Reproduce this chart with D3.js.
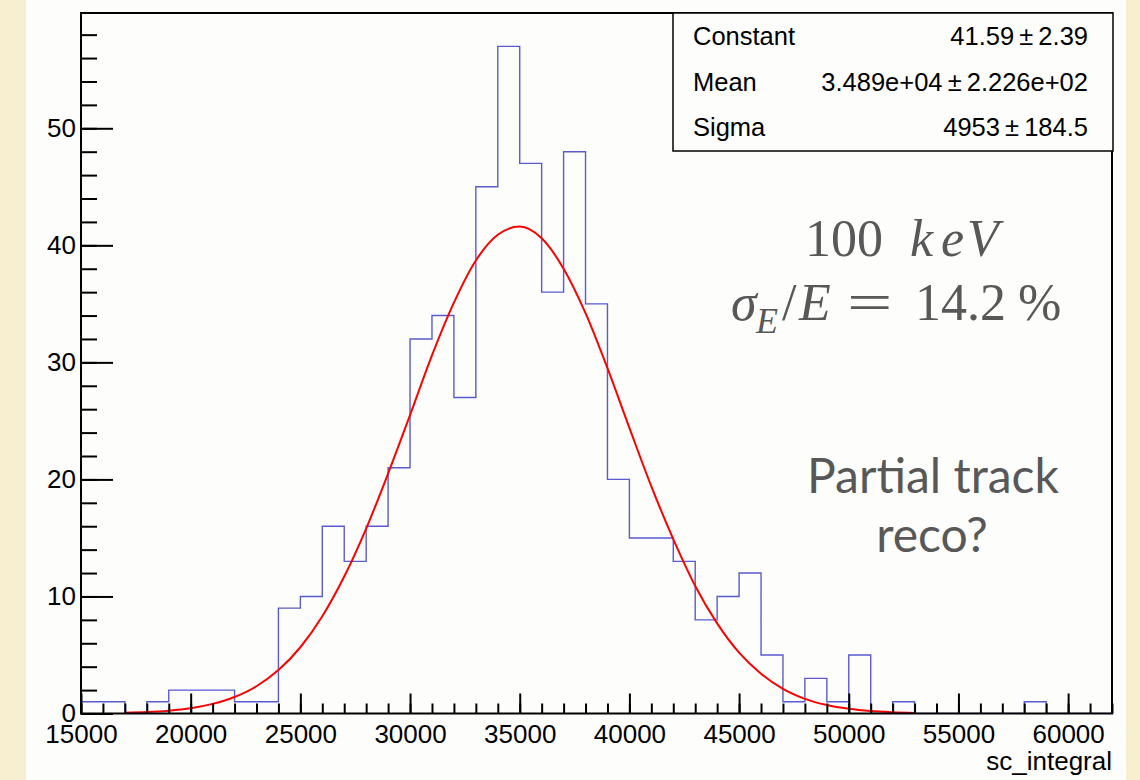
<!DOCTYPE html>
<html>
<head>
<meta charset="utf-8">
<script src="https://cdn.jsdelivr.net/npm/d3@7"></script>
<style>
  body { margin: 0; background: #f8efd0; }
  svg { display: block; }
  .tick text { font-family: "Liberation Sans", Arial, sans-serif; font-size: 26px; fill: #000; }
</style>
</head>
<body>
<script>
// histogram sc_integral, 1000 wide bins from 15000 to 62000
var binStart = 15000, binWidth = 1000;
var counts = [1,1,0,1,2,2,2,1,1,9,10,16,13,16,21,32,34,27,45,57,47,36,48,35,20,15,15,13,8,10,12,5,1,3,1,5,0,1,0,0,0,0,0,1,0,0,0];

// gaus fit curve
var fitX = [17000,18000,19000,20000,21000,22000,23000,24000,25000,26000,27000,28000,29000,30000,31000,32000,33000,34000,35000,36000,37000,38000,39000,40000,41000,42000,43000,44000,45000,46000,47000,48000,49000,50000,51000,52000,53000];
var fitY = [0.06,0.12,0.24,0.45,0.82,1.41,2.33,3.71,5.66,8.31,11.7,15.8,20.5,25.5,30.6,35.1,38.7,40.9,41.6,40.6,38.0,34.2,29.5,24.4,19.4,14.9,10.9,7.7,5.2,3.4,2.1,1.25,0.72,0.40,0.21,0.11,0.05];

var xTicks = [15000,20000,25000,30000,35000,40000,45000,50000,55000,60000];
var yTicks = [0,10,20,30,40,50];

var statNames = ["Constant","Mean","Sigma"];
var statVals = ["41.59","3.489e+04","4953"];
var statErrs = ["2.39","2.226e+02","184.5"];

var W = 1140, H = 780;
// note: "top" is taken by window.top, so frame edges get their own names
var fL = 81, fR = 1112, fT = 13, fB = 713.5;

var svg = d3.select("body").append("svg").attr("width", W).attr("height", H);

// white canvas
svg.append("rect").attr("x", 26).attr("y", 0).attr("width", 1100).attr("height", H).attr("fill", "#fdfdfc");

var xScale = d3.scaleLinear().domain([15000, 62000]).range([fL, fR]);
var yScale = d3.scaleLinear().domain([0, 59.85]).range([fB, fT]);

svg.append("clipPath").attr("id", "frameclip")
  .append("rect").attr("x", fL).attr("y", fT).attr("width", fR - fL).attr("height", fB - fT);

// histogram outline
var pts = counts.map(function (c, i) { return [binStart + i * binWidth, c]; });
pts.push([binStart + counts.length * binWidth, counts[counts.length - 1]]);
var histLine = d3.line()
  .x(function (d) { return xScale(d[0]); })
  .y(function (d) { return yScale(d[1]); })
  .curve(d3.curveStepAfter);
svg.append("path").datum(pts)
  .attr("d", histLine)
  .attr("fill", "none")
  .attr("stroke", "#5a5ad2")
  .attr("stroke-width", 1.4)
  .attr("clip-path", "url(#frameclip)");

// fit
var fitLine = d3.line()
  .x(function (d, i) { return xScale(fitX[i]); })
  .y(function (d) { return yScale(d); })
  .curve(d3.curveMonotoneX);
svg.append("path").datum(fitY)
  .attr("d", fitLine)
  .attr("fill", "none")
  .attr("stroke", "#ff0000")
  .attr("stroke-width", 2)
  .attr("clip-path", "url(#frameclip)");

// axes, ticks pointing inward like ROOT
var xMinor = d3.range(15000, 62001, 1000);
svg.append("g").attr("transform", "translate(0," + fB + ")")
  .call(d3.axisBottom(xScale).tickValues(xMinor).tickSizeInner(-10).tickSizeOuter(0).tickFormat(""))
  .call(function (g) { g.select(".domain").remove(); });
svg.append("g").attr("transform", "translate(0," + fB + ")")
  .call(d3.axisBottom(xScale).tickValues(xTicks).tickSizeInner(-20).tickSizeOuter(0).tickPadding(11).tickFormat(d3.format("d")))
  .call(function (g) { g.select(".domain").remove(); });

var yMinor = d3.range(0, 59, 2);
svg.append("g").attr("transform", "translate(" + fL + ",0)")
  .call(d3.axisLeft(yScale).tickValues(yMinor).tickSizeInner(-16).tickSizeOuter(0).tickFormat(""))
  .call(function (g) { g.select(".domain").remove(); });
svg.append("g").attr("transform", "translate(" + fL + ",0)")
  .call(d3.axisLeft(yScale).tickValues(yTicks).tickSizeInner(-32).tickSizeOuter(0).tickPadding(5))
  .call(function (g) { g.select(".domain").remove(); });

svg.selectAll(".tick line").attr("stroke", "#000").attr("stroke-width", 2);

// frame
svg.append("rect")
  .attr("x", fL).attr("y", fT).attr("width", fR - fL).attr("height", fB - fT)
  .attr("fill", "none").attr("stroke", "#000").attr("stroke-width", 2);

// axis title
svg.append("text")
  .attr("x", 1112).attr("y", 770)
  .attr("text-anchor", "end")
  .attr("font-family", "Liberation Sans, Arial, sans-serif")
  .attr("font-size", 26)
  .text("sc_integral");

// stats box
var box = svg.append("g");
box.append("rect")
  .attr("x", 673).attr("y", fT).attr("width", 440).attr("height", 138)
  .attr("fill", "#fdfdfc").attr("stroke", "#000").attr("stroke-width", 1.5);
statNames.forEach(function (n, i) {
  var yb = 45 + i * 45.5;
  box.append("text").attr("x", 693).attr("y", yb)
    .attr("font-family", "Liberation Sans, Arial, sans-serif").attr("font-size", 25.5)
    .text(n);
  box.append("text").attr("x", 1088).attr("y", yb).attr("text-anchor", "end")
    .attr("font-family", "Liberation Sans, Arial, sans-serif").attr("font-size", 25.5)
    .text(statVals[i] + "\u2009\u00b1\u2009" + statErrs[i]);
});

// annotations (latex-ish, serif). each glyph group placed on its own
var grey = "#585858";
var serifFont = "'Liberation Serif', 'Times New Roman', serif";
var t1 = svg.append("text").attr("y", 256)
  .style("font-family", serifFont)
  .attr("font-size", 52).attr("fill", grey);
t1.append("tspan").attr("x", 805).text("100");
t1.append("tspan").attr("x", 910).attr("font-style", "italic").text("k");
t1.append("tspan").attr("x", 941).attr("font-style", "italic").text("e");
t1.append("tspan").attr("x", 967).attr("font-style", "italic").text("V");

var t2 = svg.append("text").attr("y", 320)
  .style("font-family", serifFont)
  .attr("font-size", 52).attr("fill", grey);
t2.append("tspan").attr("x", 731).attr("font-style", "italic").text("\u03c3");
t2.append("tspan").attr("x", 756).attr("dy", 13).attr("font-style", "italic").attr("font-size", 36).text("E");
t2.append("tspan").attr("x", 782).attr("dy", -13).text("/");
t2.append("tspan").attr("x", 799).attr("font-style", "italic").text("E");
t2.append("tspan").attr("x", 915).text("14.2");
t2.append("tspan").attr("x", 1018).text("%");

// wider equals sign, as the latex one
svg.append("text")
  .attr("transform", "translate(847,320) scale(1.55,1)")
  .style("font-family", serifFont)
  .attr("font-size", 52).attr("fill", grey)
  .text("=");

svg.append("text").attr("x", 933).attr("y", 493).attr("text-anchor", "middle")
  .style("font-family", "Lato, 'Open Sans', sans-serif").attr("font-size", 48)
  .attr("fill", grey)
  .text("Partial track");
svg.append("text").attr("x", 932).attr("y", 552).attr("text-anchor", "middle")
  .style("font-family", "Lato, 'Open Sans', sans-serif").attr("font-size", 48)
  .attr("fill", grey)
  .text("reco?");
</script>
</body>
</html>
